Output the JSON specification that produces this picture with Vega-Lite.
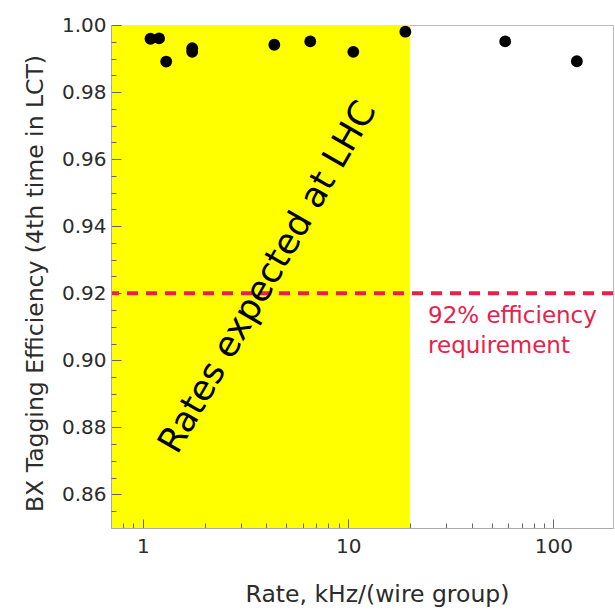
{
  "$schema": "https://vega.github.io/schema/vega-lite/v6.json",
  "width": 502,
  "height": 503,
  "autosize": "none",
  "padding": {"left": 111, "top": 25, "right": 2, "bottom": 83},
  "background": "white",
  "config": {"view": {"stroke": "#bbbbbb", "strokeWidth": 1}, "font": "DejaVu Sans"},
  "resolve": {"axis": {"y": "independent"}},
  "layer": [
    {
      "data": {"values": [{"from": 0.7, "to": 20, "low": 0.85, "high": 1.0}]},
      "mark": {"type": "rect", "color": "#ffff00"},
      "encoding": {
        "x": {
          "field": "from", "type": "quantitative",
          "scale": {"type": "log", "domain": [0.7, 195], "nice": false},
          "title": "Rate, kHz/(wire group)",
          "axis": {
            "title": "Rate, kHz/(wire group)",
            "values": [0.8, 0.9, 1, 2, 3, 4, 5, 6, 7, 8, 9, 10, 20, 30, 40, 50, 60, 70, 80, 90, 100],
            "labelExpr": "datum.value == 1 || datum.value == 10 || datum.value == 100 ? datum.label : ''",
            "format": "d",
            "tickSize": {"condition": {"test": "datum.value == 1 || datum.value == 10 || datum.value == 100", "value": -9}, "value": -5},
            "tickColor": "#666666",
            "tickWidth": 1,
            "domainColor": "#aaaaaa",
            "grid": false,
            "labelFont": "DejaVu Sans",
            "labelFontSize": 20,
            "labelColor": "#2b2b2b",
            "labelPadding": 17,
            "labelFlush": false,
            "labelOverlap": false,
            "titleFont": "DejaVu Sans",
            "titleFontSize": 23.5,
            "titleFontWeight": "normal",
            "titleColor": "#2b2b2b",
            "titlePadding": 22,
            "titleX": 266,
            "zindex": 1
          }
        },
        "x2": {"field": "to"},
        "y": {
          "field": "low", "type": "quantitative",
          "scale": {"domain": [0.85, 1.0], "nice": false, "zero": false},
          "title": "BX Tagging Efficiency (4th time in LCT)",
          "axis": {
            "orient": "left",
            "title": "BX Tagging Efficiency (4th time in LCT)",
            "values": [0.86, 0.88, 0.9, 0.92, 0.94, 0.96, 0.98, 1.0],
            "format": ".2f",
            "tickSize": -10,
            "tickColor": "#666666",
            "tickWidth": 1,
            "domainColor": "#aaaaaa",
            "grid": false,
            "labelFont": "DejaVu Sans",
            "labelFontSize": 20,
            "labelColor": "#2b2b2b",
            "labelPadding": 15,
            "labelFlush": false,
            "labelOverlap": false,
            "titleFont": "DejaVu Sans",
            "titleFontSize": 23.5,
            "titleFontWeight": "normal",
            "titleColor": "#2b2b2b",
            "titlePadding": 14,
            "titleY": 258,
            "zindex": 1
          }
        },
        "y2": {"field": "high"}
      }
    },
    {
      "data": {"values": [{"eff": 0.92}]},
      "mark": {"type": "rule", "color": "#e8214b", "strokeWidth": 4, "strokeDash": [11, 8]},
      "encoding": {
        "y": {"field": "eff", "type": "quantitative", "axis": null}
      }
    },
    {
      "data": {"values": [
        {"rate": 1.09, "eff": 0.9959},
        {"rate": 1.2, "eff": 0.996},
        {"rate": 1.3, "eff": 0.9891},
        {"rate": 1.74, "eff": 0.9931},
        {"rate": 1.74, "eff": 0.992},
        {"rate": 4.37, "eff": 0.9941},
        {"rate": 6.54, "eff": 0.9951},
        {"rate": 10.6, "eff": 0.992},
        {"rate": 19.0, "eff": 0.998},
        {"rate": 58.2, "eff": 0.9951},
        {"rate": 130, "eff": 0.9892}
      ]},
      "mark": {"type": "circle", "color": "black", "opacity": 1, "size": 140},
      "encoding": {
        "x": {"field": "rate", "type": "quantitative", "title": "Rate, kHz/(wire group)"},
        "y": {
          "field": "eff", "type": "quantitative",
          "axis": {
            "orient": "left",
            "title": null,
            "values": [0.855, 0.865, 0.87, 0.875, 0.885, 0.89, 0.895, 0.905, 0.91, 0.915, 0.925, 0.93, 0.935, 0.945, 0.95, 0.955, 0.965, 0.97, 0.975, 0.985, 0.99, 0.995],
            "labels": false,
            "domain": false,
            "grid": false,
            "tickSize": -5,
            "tickColor": "#666666",
            "tickWidth": 1,
            "zindex": 1
          }
        }
      }
    },
    {
      "data": {"values": [{"rate": 4.05, "eff": 0.9248, "label": "Rates expected at LHC"}]},
      "mark": {"type": "text", "angle": -60, "align": "center", "baseline": "middle", "fontSize": 35, "font": "DejaVu Sans", "color": "black"},
      "encoding": {
        "x": {"field": "rate", "type": "quantitative", "title": "Rate, kHz/(wire group)"},
        "y": {"field": "eff", "type": "quantitative", "axis": null},
        "text": {"field": "label"}
      }
    },
    {
      "data": {"values": [{"rate": 24.5, "eff": 0.9166, "label": "92% efficiency\nrequirement"}]},
      "mark": {"type": "text", "align": "left", "baseline": "top", "fontSize": 23, "lineHeight": 30, "lineBreak": "\n", "font": "DejaVu Sans", "color": "#e8214b"},
      "encoding": {
        "x": {"field": "rate", "type": "quantitative", "title": "Rate, kHz/(wire group)"},
        "y": {"field": "eff", "type": "quantitative", "axis": null},
        "text": {"field": "label"}
      }
    }
  ]
}
